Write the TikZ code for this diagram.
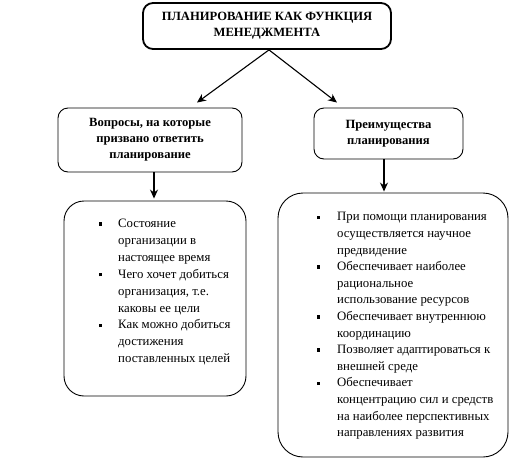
\documentclass[tikz,border=0pt]{standalone}
\usepackage{fontspec}
\setmainfont{Liberation Serif}
\usetikzlibrary{arrows.meta}
\newcommand{\sqb}{\raisebox{0.3ex}{\rule{3.5pt}{3.5pt}}}
\begin{document}
\begin{tikzpicture}[x=1pt,y=-1pt,
  box/.style={draw=black,rounded corners=10pt,line width=0.9pt,fill=white,inner sep=0pt},
  arr/.style={-{Stealth[length=9pt,width=8pt]},line width=1.1pt},
  head/.style={font=\bfseries\fontsize{12.6}{16}\selectfont,align=center},
  lst/.style={font=\fontsize{12.8}{16.6}\selectfont,anchor=north west,inner sep=0pt,align=left}]
\useasboundingbox[fill=white] (0,0) rectangle (531,469);
\node[box,line width=1.8pt,minimum width=248pt,minimum height=46pt,head] (top) at (267,26)
  {ПЛАНИРОВАНИЕ КАК ФУНКЦИЯ\\МЕНЕДЖМЕНТА};
\node[box,minimum width=184pt,minimum height=64pt,head] (lm) at (150,140)
  {Вопросы, на которые\\призвано ответить\\планирование};
\node[box,minimum width=149pt,minimum height=51pt,head] (rm) at (388.5,133.5)
  {Преимущества\\планирования};
\node[box,rounded corners=20pt,minimum width=182pt,minimum height=195pt] (lb) at (155,298.5) {};
\node[box,rounded corners=25pt,minimum width=230pt,minimum height=264pt] (rb) at (393,325) {};
\node[lst,font=\fontsize{12.8}{16.9}\selectfont] (lt) at (98.5,215.5) {%
\begin{tabular}{@{}p{19.5pt}@{}l@{}}
\sqb & Состояние\\
 & организации в\\
 & настоящее время\\
\sqb & Чего хочет добиться\\
 & организация, т.е.\\
 & каковы ее цели\\
\sqb & Как можно добиться\\
 & достижения\\
 & поставленных целей
\end{tabular}};
\node[lst] (rt) at (316.5,209) {%
\begin{tabular}{@{}p{20.5pt}@{}l@{}}
\sqb & При помощи планирования\\
 & осуществляется научное\\
 & предвидение\\
\sqb & Обеспечивает наиболее\\
 & рациональное\\
 & использование ресурсов\\
\sqb & Обеспечивает внутреннюю\\
 & координацию\\
\sqb & Позволяет адаптироваться к\\
 & внешней среде\\
\sqb & Обеспечивает\\
 & концентрацию сил и средств\\
 & на наиболее перспективных\\
 & направлениях развития
\end{tabular}};
\draw[arr] ([xshift=2pt]top.south) -- ([xshift=47pt,yshift=5pt]lm.north);
\draw[arr] ([xshift=2pt]top.south) -- ([xshift=-51.5pt,yshift=5pt]rm.north);
\draw[arr,shorten >=2pt] ([xshift=4pt]lm.south) -- ([xshift=-1pt]lb.north);
\draw[arr,shorten >=1pt] ([xshift=-4.5pt]rm.south) -- ([xshift=-9pt]rb.north);
\end{tikzpicture}
\end{document}
